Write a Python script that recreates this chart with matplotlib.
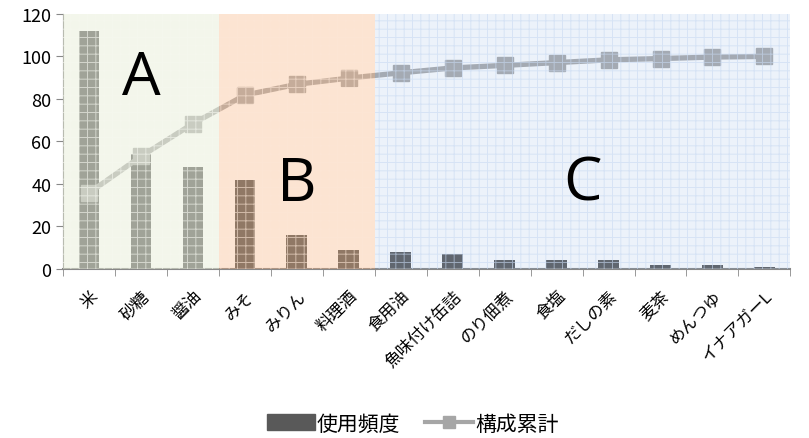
import matplotlib.pyplot as plt
from matplotlib.patches import Rectangle
from matplotlib.lines import Line2D
from matplotlib.patches import Patch

plt.rcParams['font.family'] = ['Noto Sans CJK JP', 'DejaVu Sans']
plt.rcParams['hatch.linewidth'] = 0.7

items = ['米', '砂糖', '醤油', 'みそ', 'みりん', '料理酒', '食用油', '魚味付け缶詰',
         'のり佃煮', '食塩', 'だしの素', '麦茶', 'めんつゆ', 'イナアガーL']
freq = [112, 54, 48, 42, 16, 9, 8, 7, 4, 4, 4, 2, 2, 1]
cum = [35.8, 53.0, 68.4, 81.8, 86.9, 89.8, 92.3, 94.6, 95.8, 97.1, 98.4, 99.0, 99.7, 100.0]

# ABCランクの範囲（カテゴリ番号）
ranks = ['A', 'B', 'C']
rank_start = [0, 3, 6]
rank_end = [3, 6, 14]
rank_face = ['#e8eed8', '#f9b27e', '#8ab0e4']
rank_hatch = ['#f6f8f0', '#fde6d6', '#c8d9f2']
rank_alpha = [0.5, 0.35, 0.16]
rank_label_y = [90, 40, 40]

fig = plt.figure(figsize=(8.09, 4.39), dpi=100)
ax = fig.add_axes([0.078, 0.385, 0.899, 0.581])

x = range(len(items))
ax.bar(x, freq, width=0.4, color='#595959', zorder=1)
ax.plot(x, cum, color='#aaaaaa', lw=3.8, marker='s', ms=12, zorder=2)

for r, s, e, fc, hc, a, ly in zip(ranks, rank_start, rank_end, rank_face,
                                   rank_hatch, rank_alpha, rank_label_y):
    ax.add_patch(Rectangle((s - 0.5, 0), e - s, 120, facecolor=fc, alpha=a,
                           edgecolor='none', zorder=3))
    ax.add_patch(Rectangle((s - 0.5, 0), e - s, 120, facecolor='none',
                           edgecolor=hc, hatch='++', lw=0, alpha=0.6, zorder=3))
    ax.text((s + e - 1) / 2, ly, r, fontsize=44, ha='center', va='center',
            family='Open Sans', zorder=4)

ax.set_xlim(-0.5, len(items) - 0.5)
ax.set_ylim(0, 120)
ax.set_yticks(range(0, 121, 20))
ax.tick_params(axis='y', labelsize=13, length=5, color='#888888')
ax.set_xticks(x)
ax.set_xticklabels(items, rotation=45, ha='right', rotation_mode='anchor', fontsize=12)
ax.set_xticks([i - 0.5 for i in range(len(items) + 1)], minor=True)
ax.tick_params(axis='x', which='major', length=0, pad=13)
ax.tick_params(axis='x', which='minor', length=5, color='#888888')

for side in ['top', 'right']:
    ax.spines[side].set_visible(False)
ax.spines['left'].set_color('#888888')
ax.spines['bottom'].set_color('#888888')
ax.spines['bottom'].set_linewidth(1.5)

handles = [Patch(color='#595959', label='使用頻度'),
           Line2D([], [], color='#a6a6a6', lw=3, marker='s', ms=9, label='構成累計')]
fig.legend(handles=handles, loc='lower center', bbox_to_anchor=(0.51, -0.035), ncol=2,
           frameon=False, fontsize=15, handlelength=2.3, handleheight=0.8,
           columnspacing=1.2, handletextpad=0.1)

fig.savefig('out.png', dpi=100)
